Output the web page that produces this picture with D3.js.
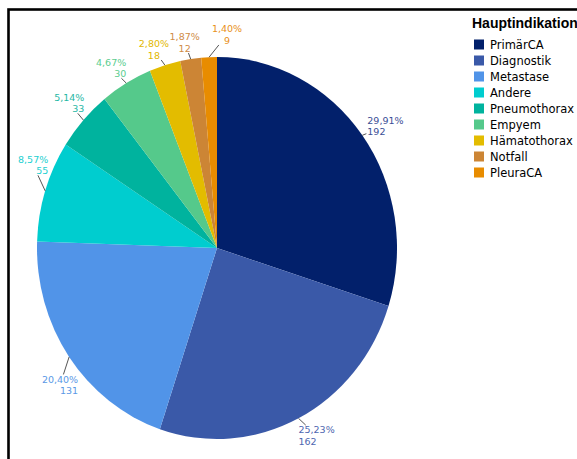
<!DOCTYPE html>
<html>
<head>
<meta charset="utf-8">
<script src="https://cdn.jsdelivr.net/npm/d3@7"></script>
<style>
  html, body { margin: 0; padding: 0; background: #fff; }
  svg { display: block; }
</style>
</head>
<body>
<svg id="chart" width="577" height="459"></svg>
<script>
// ---- data ----
const categories = ["PrimärCA", "Diagnostik", "Metastase", "Andere", "Pneumothorax", "Empyem", "Hämatothorax", "Notfall", "PleuraCA"];
const values = [192, 162, 131, 55, 33, 30, 18, 12, 9];
const legendTitle = "Hauptindikation";

// ---- style / layout ----
const colors = ["#02206b", "#3a59a8", "#5194e8", "#00cdcf", "#00b39e", "#55c98b", "#e3bc00", "#cc8535", "#e88c00"];
const labelColors = ["#3a4e96", "#4d66b0", "#5a98e6", "#22cfd0", "#1fb8a5", "#5ccd8f", "#e2b800", "#cf8c46", "#e8901a"];
// label block offset from the slice's rim point: [dx, dy, anchor]
const labelLayout = [
  [5, -9, "start"], [0, 17, "start"], [9, 28, "end"], [3, -26, "end"], [1, -17, "end"],
  [0, -15, "end"], [-11, -15.5, "middle"], [-6, -16.5, "middle"], [18, -22.5, "middle"]
];

const W = 577, H = 459;
const cx = 217, cy = 248, rx = 180, ry = 191;

const svg = d3.select("#chart");

// frame
svg.append("rect")
  .attr("x", 8.5).attr("y", 9.5).attr("width", 800).attr("height", 800)
  .attr("fill", "none").attr("stroke", "#000").attr("stroke-width", 2.6);

const total = d3.sum(values);
const pie = d3.pie().sort(null).value(d => d)(values);
const arc = d3.arc().innerRadius(0).outerRadius(rx);

const gPie = svg.append("g")
  .attr("transform", `translate(${cx},${cy}) scale(1,${ry / rx})`);

gPie.selectAll("path").data(pie).join("path")
  .attr("d", arc)
  .attr("fill", (d, i) => colors[i]);

// labels
const fmt = v => (v / total * 100).toFixed(2).replace(".", ",") + "%";
const gLab = svg.append("g");

pie.forEach((d, i) => {
  const a = (d.startAngle + d.endAngle) / 2;
  const ex = cx + rx * Math.sin(a), ey = cy - ry * Math.cos(a);
  const [dx, dy, anchor] = labelLayout[i];
  const tx = ex + dx, tyc = ey + dy;
  const t = gLab.append("text")
    .attr("font-family", "DejaVu Sans, sans-serif")
    .attr("font-size", 9.5)
    .attr("fill", labelColors[i])
    .attr("text-anchor", anchor);
  t.append("tspan").attr("x", tx).attr("y", tyc - 2.3).text(fmt(values[i]));
  t.append("tspan").attr("x", tx).attr("y", tyc + 9.2).text(values[i]);
  const bb = t.node().getBBox();
  const bcx = bb.x + bb.width / 2, bcy = tyc;
  const hw = bb.width / 2, hh = 9.5;
  const vx = ex - bcx, vy = ey - bcy;
  const dist = Math.hypot(vx, vy);
  const ux = vx / dist, uy = vy / dist;
  const tb = Math.min(Math.abs(ux) > 1e-6 ? hw / Math.abs(ux) : 1e9, Math.abs(uy) > 1e-6 ? hh / Math.abs(uy) : 1e9);
  const len = Math.max(3, dist - tb - 1);
  gLab.append("line")
    .attr("x1", ex).attr("y1", ey)
    .attr("x2", ex - ux * len).attr("y2", ey - uy * len)
    .attr("stroke", "#555").attr("stroke-width", 1);
});

// legend
const lg = svg.append("g");
lg.append("text")
  .attr("x", 472).attr("y", 28)
  .attr("font-family", "Liberation Sans, Arial, sans-serif")
  .attr("font-weight", "bold").attr("font-size", 14)
  .attr("fill", "#000")
  .text(legendTitle);

const item = lg.selectAll("g.item").data(categories).join("g")
  .attr("class", "item")
  .attr("transform", (d, i) => `translate(474,${39.5 + i * 16})`);
item.append("rect").attr("width", 10).attr("height", 10).attr("fill", (d, i) => colors[i]);
item.append("text")
  .attr("x", 16).attr("y", 9)
  .attr("font-family", "DejaVu Sans, sans-serif")
  .attr("font-size", 11.5)
  .attr("fill", "#000")
  .text(d => d);
</script>
</body>
</html>
